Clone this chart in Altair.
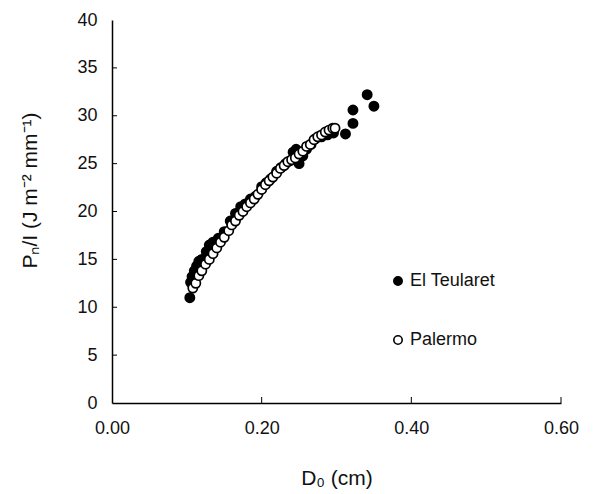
import altair as alt
import pandas as pd

teul_x = [0.104,0.105,0.107,0.110,0.113,0.116,0.120,0.126,0.130,0.135,0.142,0.150,0.158,0.165,0.172,0.178,0.185,0.192,0.200,0.206,0.212,0.220,0.226,0.232,0.238,0.242,0.246,0.250,0.255,0.260,0.266,0.272,0.280,0.288,0.296,0.312,0.322,0.322,0.341,0.350]
teul_y = [11.0,12.6,13.2,13.8,14.3,14.8,15.0,15.8,16.5,16.8,17.2,17.9,19.0,19.8,20.5,20.8,21.3,21.6,22.6,23.0,23.4,24.2,24.6,25.0,25.3,26.2,26.5,25.0,25.8,26.5,27.0,27.6,27.8,28.0,28.2,28.1,29.2,30.6,32.2,31.0]

pal_x = [0.108,0.112,0.116,0.120,0.125,0.130,0.135,0.140,0.145,0.150,0.156,0.160,0.165,0.170,0.175,0.180,0.185,0.190,0.195,0.200,0.205,0.210,0.215,0.220,0.225,0.230,0.235,0.240,0.245,0.250,0.255,0.260,0.265,0.270,0.275,0.280,0.285,0.290,0.295,0.298]
pal_y = [12.0,12.5,13.3,13.8,14.5,15.0,15.6,16.2,16.8,17.3,18.0,18.6,19.0,19.6,20.0,20.5,20.9,21.3,21.8,22.3,22.8,23.2,23.6,24.0,24.5,24.8,25.2,25.4,25.6,26.0,26.3,26.8,27.0,27.5,27.8,28.0,28.3,28.5,28.7,28.7]

series_names = ["El Teularet", "Palermo"]
x_ticks = [0.0, 0.2, 0.4, 0.6]
y_ticks = [0, 5, 10, 15, 20, 25, 30, 35, 40]

df = pd.DataFrame(
    {"x": teul_x + pal_x,
     "y": teul_y + pal_y,
     "series": [series_names[0]] * len(teul_x) + [series_names[1]] * len(pal_x),
     "order": [0] * len(teul_x) + [1] * len(pal_x)}
)

FONT = "Liberation Sans"

xs = alt.Scale(domain=[0, 0.6], nice=False)
ys = alt.Scale(domain=[0, 40], nice=False)

points = alt.Chart(df).mark_circle(size=85, opacity=1, stroke="black", strokeWidth=1.7).encode(
    x=alt.X("x:Q", scale=xs,
            axis=alt.Axis(values=x_ticks, format=".2f", title="D\u2080 (cm)",
                          labelPadding=16, titlePadding=30, tickSize=0, labelFlush=False)),
    y=alt.Y("y:Q", scale=ys,
            axis=alt.Axis(values=y_ticks, title="P\u2099/I (J m\u207b\u00b2 mm\u207b\u00b9)",
                          labelPadding=15, tickSize=0, titleX=-72, titleY=170)),
    fill=alt.Fill("series:N",
                  scale=alt.Scale(domain=series_names, range=["black", "white"]),
                  legend=alt.Legend(title=None, orient="none", legendX=277, legendY=252,
                                    rowPadding=41, labelFontSize=18, labelFont=FONT,
                                    labelColor="#111", symbolSize=70, symbolStrokeColor="black",
                                    symbolStrokeWidth=1.6, labelOffset=3, padding=0)),
    order=alt.Order("order:Q"),
)

ytick_df = pd.DataFrame({"y": y_ticks[1:-1]})
yticks = alt.Chart(ytick_df).mark_rule(color="black", strokeWidth=1).encode(
    y=alt.Y("y:Q", scale=ys),
    x=alt.value(0), x2=alt.value(5),
)
xtick_df = pd.DataFrame({"x": x_ticks[1:]})
xticks = alt.Chart(xtick_df).mark_rule(color="black", strokeWidth=1).encode(
    x=alt.X("x:Q", scale=xs),
    y=alt.value(383), y2=alt.value(377),
)

chart = alt.layer(yticks, xticks, points).properties(
    width=449, height=383,
    autosize=alt.AutoSizeParams(type="none"),
    padding={"left": 104, "top": 12, "right": 24, "bottom": 90},
).configure_view(stroke=None).configure_axis(
    grid=False, domainColor="black", domainWidth=1.5,
    labelFont=FONT, titleFont=FONT, labelFontSize=18, titleFontSize=21,
    labelColor="#111", titleColor="#111", titleFontWeight="normal",
)

chart.save("out.html", embed_options={"renderer": "svg", "actions": False})
